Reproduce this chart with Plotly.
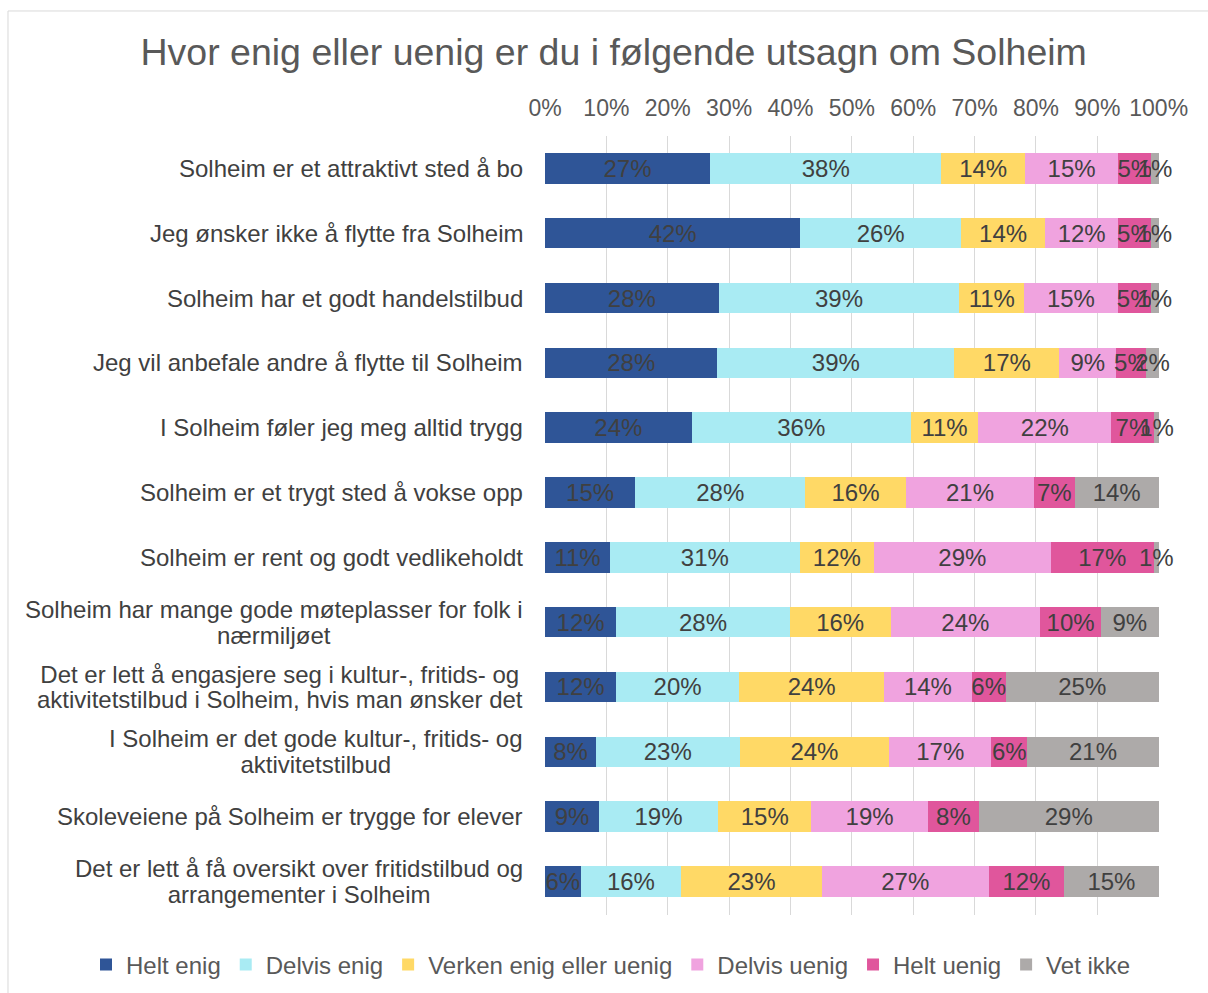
import plotly.graph_objects as go

categories = [
    "Solheim er et attraktivt sted å bo",
    "Jeg ønsker ikke å flytte fra Solheim",
    "Solheim har et godt handelstilbud",
    "Jeg vil anbefale andre å flytte til Solheim",
    "I Solheim føler jeg meg alltid trygg",
    "Solheim er et trygt sted å vokse opp",
    "Solheim er rent og godt vedlikeholdt",
    "Solheim har mange gode møteplasser for folk i nærmiljøet",
    "Det er lett å engasjere seg i kultur-, fritids- og aktivitetstilbud i Solheim, hvis man ønsker det",
    "I Solheim er det gode kultur-, fritids- og aktivitetstilbud",
    "Skoleveiene på Solheim er trygge for elever",
    "Det er lett å få oversikt over fritidstilbud og arrangementer i Solheim",
]
category_label_lines = [
    ["Solheim er et attraktivt sted å bo"],
    ["Jeg ønsker ikke å flytte fra Solheim"],
    ["Solheim har et godt handelstilbud"],
    ["Jeg vil anbefale andre å flytte til Solheim"],
    ["I Solheim føler jeg meg alltid trygg"],
    ["Solheim er et trygt sted å vokse opp"],
    ["Solheim er rent og godt vedlikeholdt"],
    ["Solheim har mange gode møteplasser for folk i", "nærmiljøet"],
    ["Det er lett å engasjere seg i kultur-, fritids- og", "aktivitetstilbud i Solheim, hvis man ønsker det"],
    ["I Solheim er det gode kultur-, fritids- og", "aktivitetstilbud"],
    ["Skoleveiene på Solheim er trygge for elever"],
    ["Det er lett å få oversikt over fritidstilbud og", "arrangementer i Solheim"],
]

helt_enig    = [26.9, 41.6, 28.3, 28.1, 23.9, 14.7, 10.6, 11.6, 11.6, 8.3, 8.8, 5.8]
delvis_enig  = [37.7, 26.2, 39.2, 38.6, 35.7, 27.7, 30.9, 28.3, 20.0, 23.4, 19.4, 16.4]
verken       = [13.6, 13.7, 10.6, 17.1, 11.0, 16.4, 12.1, 16.4, 23.7, 24.4, 15.2, 22.9]
delvis_uenig = [15.2, 11.9, 15.2, 9.3, 21.7, 20.9, 28.8, 24.4, 14.2, 16.6, 19.0, 27.2]
helt_uenig   = [5.4, 5.3, 5.4, 4.9, 7.0, 6.6, 16.8, 9.9, 5.6, 5.9, 8.3, 12.3]
vet_ikke     = [1.2, 1.3, 1.3, 2.0, 0.7, 13.7, 0.8, 9.4, 24.9, 21.4, 29.3, 15.4]

series_names = ["Helt enig", "Delvis enig", "Verken enig eller uenig",
                "Delvis uenig", "Helt uenig", "Vet ikke"]
series_values = [helt_enig, delvis_enig, verken, delvis_uenig, helt_uenig, vet_ikke]
series_colors = ["#2F5597", "#A9EBF3", "#FFD966", "#F0A3DF", "#E0569C", "#ADAAA9"]

tick_vals = list(range(0, 101, 10))
tick_text = [f"{v}%" for v in tick_vals]

FONT = "Liberation Sans, Arial, sans-serif"

fig = go.Figure()
for name, vals, col in zip(series_names, series_values, series_colors):
    fig.add_trace(go.Bar(
        y=categories, x=vals, name=name, orientation="h",
        marker=dict(color=col, line=dict(width=0)),
        text=vals, texttemplate="%{x:.0f}%", textposition="inside",
        insidetextanchor="middle", textangle=0,
        textfont=dict(family=FONT, size=24, color="#404040"),
        cliponaxis=False, hoverinfo="skip",
    ))

HIDE = "<span style='color:rgba(0,0,0,0)'>{}</span>"
LINE_GAP = 26          # Excel-like tight line spacing
PLOTLY_GAP = 24 * 1.3  # plotly's built-in line spacing
label_font = dict(family=FONT, size=24, color="#404040")
annotations = []
for cat, lines in zip(categories, category_label_lines):
    base = dict(x=-0.0325, xref="paper", y=cat, yref="y", xanchor="right",
                yanchor="middle", align="center", showarrow=False, font=label_font)
    if len(lines) == 1:
        annotations.append(dict(base, text=lines[0]))
    else:
        l1, l2 = lines
        d = (PLOTLY_GAP - LINE_GAP) / 2
        # both blocks contain both lines so they share the same centring axis;
        # one line is hidden in each, and each block is nudged to tighten spacing
        annotations.append(dict(base, text=l1 + "<br>" + HIDE.format(l2), yshift=-d))
        annotations.append(dict(base, text=HIDE.format(l1) + "<br>" + l2, yshift=d))

PLOT_TOP, PLOT_BOTTOM_MARGIN = 136, 78
plot_h = 993 - PLOT_TOP - PLOT_BOTTOM_MARGIN

fig.update_layout(
    width=1208, height=993, autosize=False,
    barmode="stack", bargap=0.53,
    paper_bgcolor="white", plot_bgcolor="white",
    margin=dict(l=545, r=49, t=PLOT_TOP, b=PLOT_BOTTOM_MARGIN, autoexpand=False),
    title=dict(text="Hvor enig eller uenig er du i følgende utsagn om Solheim",
               x=0.508, xref="container", xanchor="center",
               y=0.9476, yref="container", yanchor="middle",
               font=dict(family=FONT, size=37.5, color="#595959")),
    xaxis=dict(side="top", range=[0, 100.05], tickvals=tick_vals, ticktext=tick_text,
               showgrid=True, gridcolor="#D9D9D9", gridwidth=1, zeroline=False,
               showline=False, ticks="", ticklabelstandoff=14,
               tickfont=dict(family=FONT, size=23, color="#595959")),
    yaxis=dict(autorange="reversed", showticklabels=False, showgrid=False,
               zeroline=False, showline=False, ticks=""),
    legend=dict(orientation="h", x=(86 - 545) / 614, xanchor="left",
                y=-(965 - (993 - PLOT_BOTTOM_MARGIN)) / plot_h, yanchor="middle",
                font=dict(family=FONT, size=24, color="#595959"),
                itemwidth=30, traceorder="normal", bgcolor="rgba(0,0,0,0)"),
    uniformtext=dict(minsize=24, mode="show"),
    annotations=annotations,
    shapes=[dict(type="rect", xref="paper", yref="paper",
                 x0=-0.8746, x1=1.12, y0=-0.12, y1=1.1605,
                 line=dict(color="#D9D9D9", width=1), fillcolor="rgba(0,0,0,0)",
                 layer="below")],
)

fig.write_html("out.html", config={"displayModeBar": False},
               post_script="document.body.style.margin='0';document.body.style.overflow='hidden';")
